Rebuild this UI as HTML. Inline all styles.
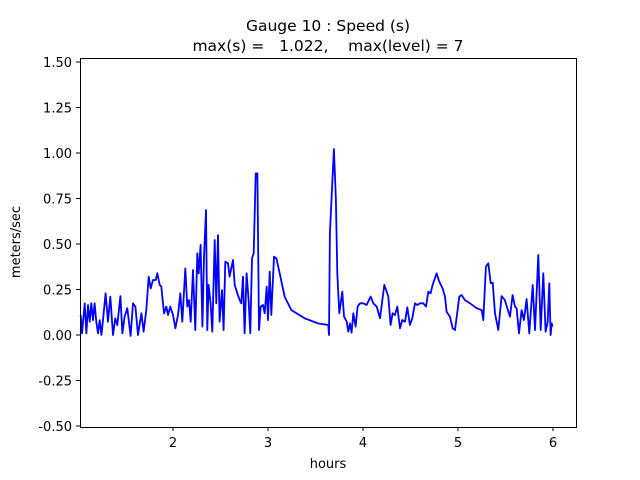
<!DOCTYPE html>
<html><head><meta charset="utf-8"><style>
body{margin:0;background:#fff}
svg{display:block;font-family:"DejaVu Sans","Liberation Sans",sans-serif}
</style></head><body>
<svg id="chart" width="640" height="480">
<text x="328" y="31" text-anchor="middle" font-size="15.5">Gauge 10 : Speed (s)</text>
<text x="328" y="51" text-anchor="middle" font-size="15.5" xml:space="preserve">max(s) =   1.022,    max(level) = 7</text>
<text x="328" y="468" text-anchor="middle" font-size="13">hours</text>
<text x="0" y="0" transform="translate(20,242) rotate(-90)" text-anchor="middle" font-size="13">meters/sec</text>
<g id="ticks"></g>
<polyline id="line" fill="none" stroke="#0000ff" stroke-width="1.8" stroke-linejoin="round"/>
<rect x="80.5" y="58.5" width="496" height="369" fill="none" stroke="#000" stroke-width="1"/>
</svg>
<script>
const hours=[1.028,1.042,1.070,1.088,1.105,1.123,1.140,1.158,1.175,1.193,1.211,1.228,1.246,1.263,1.291,1.316,1.340,1.368,1.393,1.414,1.446,1.467,1.491,1.519,1.554,1.579,1.604,1.632,1.667,1.691,1.719,1.744,1.765,1.789,1.818,1.835,1.860,1.877,1.905,1.930,1.947,1.972,2.000,2.025,2.053,2.077,2.098,2.130,2.151,2.168,2.186,2.211,2.235,2.256,2.270,2.291,2.309,2.326,2.347,2.361,2.375,2.396,2.414,2.439,2.456,2.474,2.491,2.516,2.533,2.551,2.579,2.596,2.632,2.649,2.677,2.702,2.719,2.737,2.754,2.775,2.796,2.814,2.832,2.849,2.870,2.888,2.905,2.923,2.947,2.965,2.986,3.000,3.018,3.035,3.063,3.088,3.123,3.175,3.246,3.386,3.526,3.635,3.642,3.652,3.694,3.715,3.729,3.751,3.765,3.782,3.800,3.828,3.845,3.863,3.880,3.898,3.922,3.943,3.968,4.003,4.038,4.080,4.108,4.144,4.179,4.224,4.249,4.266,4.291,4.312,4.336,4.361,4.389,4.414,4.442,4.466,4.494,4.519,4.547,4.572,4.600,4.635,4.663,4.687,4.712,4.733,4.775,4.803,4.838,4.863,4.880,4.915,4.944,4.968,5.014,5.038,5.073,5.126,5.196,5.249,5.266,5.294,5.319,5.344,5.365,5.389,5.424,5.459,5.494,5.519,5.547,5.575,5.600,5.617,5.642,5.670,5.694,5.722,5.750,5.786,5.810,5.845,5.870,5.898,5.922,5.944,5.961,5.975,5.986,5.996];
const speed=[0.110,0.009,0.174,0.009,0.165,0.073,0.174,0.082,0.174,0.073,0.009,0.082,0,0.082,0.229,0.073,0.211,0,0.092,0.055,0.214,0.009,0.101,0.147,-0.005,0.174,0.156,0,0.119,0.018,0.137,0.321,0.256,0.302,0.302,0.339,0.275,0.266,0.119,0.156,0.110,0.156,0.110,0.037,0.110,0.229,0.073,0.366,0.156,0.192,0.073,0.357,0.027,0.449,0.339,0.495,0.046,0.430,0.687,0.027,0.275,0.174,0.018,0.522,0.174,0.549,0.073,0.247,0.027,0.403,0.394,0.321,0.412,0.275,0.229,0.192,0.174,0.321,0.009,0.339,0.192,0.009,0.421,0.449,0.888,0.888,0.027,0.156,0.165,0.119,0.266,0.082,0.348,0.110,0.430,0.421,0.339,0.211,0.137,0.092,0.064,0.055,0,0.559,1.022,0.742,0.339,0.119,0.174,0.238,0.101,0.073,0.018,0.064,0.013,0.119,0.046,0.156,0.174,0.174,0.165,0.211,0.174,0.156,0.092,0.275,0.238,0.211,0.055,0.119,0.110,0.156,0.037,0.082,0.073,0.152,0.055,0.092,0.174,0.165,0.174,0.174,0.156,0.238,0.229,0.275,0.339,0.293,0.256,0.211,0.128,0.101,0.037,0.027,0.211,0.220,0.192,0.174,0.147,0.137,0.082,0.375,0.394,0.284,0.288,0.119,0.027,0.214,0.192,0.147,0.101,0.220,0.156,0.147,0.009,0.137,0.082,0.198,0.009,0.275,0.027,0.440,0.027,0.339,0.018,0.073,0.284,0,0.064,0.046];
const xTicks=[2,3,4,5,6];
const yTicks=[-0.5,-0.25,0,0.25,0.5,0.75,1.0,1.25,1.5];
const xs=h=>173+(h-2)*95;
const ys=v=>335-v*182;
const NS="http://www.w3.org/2000/svg";
const line=document.getElementById('line');
line.setAttribute('points',hours.map((h,i)=>xs(h).toFixed(1)+','+ys(speed[i]).toFixed(1)).join(' '));
const g=document.getElementById('ticks');
xTicks.forEach(t=>{
 const l=document.createElementNS(NS,'line');
 
 
 l.setAttribute('x1',xs(t));l.setAttribute('x2',xs(t));l.setAttribute('y1',427);l.setAttribute('y2',431);l.setAttribute('stroke','#000');
 g.appendChild(l);
 const tx=document.createElementNS(NS,'text');
 
 
 tx.setAttribute('x',xs(t));tx.setAttribute('y',447);tx.setAttribute('text-anchor','middle');tx.setAttribute('font-size','13');
 tx.textContent=String(t);g.appendChild(tx);
});
yTicks.forEach(t=>{
 const l=document.createElementNS(NS,'line');
 
 
 l.setAttribute('x1',76);l.setAttribute('x2',80);l.setAttribute('y1',ys(t));l.setAttribute('y2',ys(t));l.setAttribute('stroke','#000');
 g.appendChild(l);
 const tx=document.createElementNS(NS,'text');
 
 
 tx.setAttribute('x',72);tx.setAttribute('y',ys(t)+5);tx.setAttribute('text-anchor','end');tx.setAttribute('font-size','13');
 tx.textContent=t.toFixed(2);g.appendChild(tx);
});
</script>
</body></html>
